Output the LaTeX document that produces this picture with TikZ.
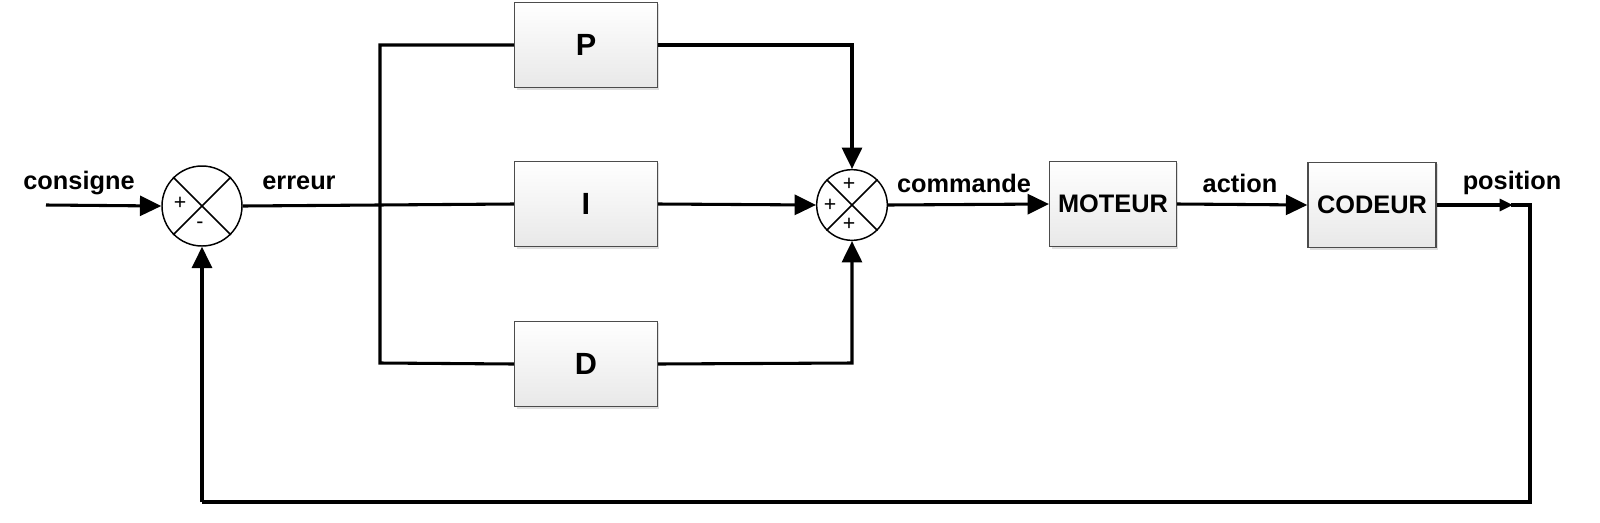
\documentclass[tikz,border=0pt]{standalone}
\usepackage{fontspec}
\setmainfont{Liberation Sans}
\usetikzlibrary{arrows.meta,shadows,calc}
\begin{document}
\begin{tikzpicture}[x=0.75pt,y=-0.75pt,
  wire/.style={line width=2.3pt},
  arr/.style={wire,-{Triangle[length=16pt,width=15pt]}},
  smallarr/.style={wire,-{Triangle[length=10pt,width=9pt]}},
  blockbox/.style={draw=black!70,line width=1.1pt,top color=white,bottom color=black!9,
    drop shadow={opacity=0.25,shadow xshift=1.5pt,shadow yshift=-1.5pt},
    font=\bfseries\fontsize{19}{21}\selectfont,inner sep=0pt},
  pidbox/.style={blockbox,minimum width=107pt,minimum height=64pt,font=\bfseries\fontsize{23}{25}\selectfont},
  sumnode/.style={draw,circle,line width=1.1pt,inner sep=0pt,fill=white},
  lbl/.style={font=\bfseries\fontsize{19}{21}\selectfont},
  sgn/.style={font=\fontsize{16}{18}\selectfont,inner sep=0pt}
]
\useasboundingbox (0,0) rectangle (1600,522);

% summers
\node[sumnode,minimum size=60pt] (s1) at (202,206) {};
\draw[line width=1.1pt] (s1.north west) -- (s1.south east) (s1.north east) -- (s1.south west);
\node[sgn] at ($(s1)+(-22,-3)$) {+};
\node[sgn] at ($(s1)+(-2,19)$) {-};

\node[sumnode,minimum size=53pt] (s2) at (852,205) {};
\draw[line width=1.1pt] (s2.north west) -- (s2.south east) (s2.north east) -- (s2.south west);
\node[sgn] at ($(s2)+(-3,-21)$) {+};
\node[sgn] at ($(s2)+(-22,0)$) {+};
\node[sgn] at ($(s2)+(-3,19)$) {+};

% blocks
\node[pidbox] (P) at (586,45) {P};
\node[pidbox] (I) at (586,204) {I};
\node[pidbox] (D) at (586,364) {D};
\node[blockbox,minimum width=95pt,minimum height=64pt] (M) at (1113,204) {MOTEUR};
\node[blockbox,minimum width=96pt,minimum height=64pt] (C) at (1372,205) {CODEUR};

% coordinates
\coordinate (cin) at (46,205);
\coordinate (bT) at (380,45);
\coordinate (bB) at (380,363);
\coordinate (pc) at (852,45);
\coordinate (dc) at (852,363);
\coordinate (ptip) at (1513,205);
\coordinate (corner) at (1530,205);
\coordinate (bR) at (1530,502);
\coordinate (bL) at (202,502);

% labels
\node[lbl] (lcons) at (79,183) {consigne};
\node[lbl] (lerr) at (299,183) {erreur};
\node[lbl] (lcom) at (964,183) {commande};
\node[lbl] (lact) at (1240,183) {action};
\node[lbl] (lpos) at (1512,183) {position};

% connectors
\draw[arr] (cin) -- (s1.west);
\draw[wire] (s1.east) -- (I.west);
\draw[wire] (P.west) -- (bT) -- (bB) -- (D.west);
\draw[arr] (P.east) -- (pc) -- (s2.north);
\draw[arr] (I.east) -- (s2.west);
\draw[arr] (D.east) -- (dc) -- (s2.south);
\draw[arr] (s2.east) -- (M.west);
\draw[arr] (M.east) -- (C.west);
\draw[smallarr] (C.east) -- (ptip);
\draw[wire] ($(ptip)+(-2,0)$) -- (corner) -- (bR) -- (bL);
\draw[arr] (bL) -- (s1.south);
\end{tikzpicture}
\end{document}
